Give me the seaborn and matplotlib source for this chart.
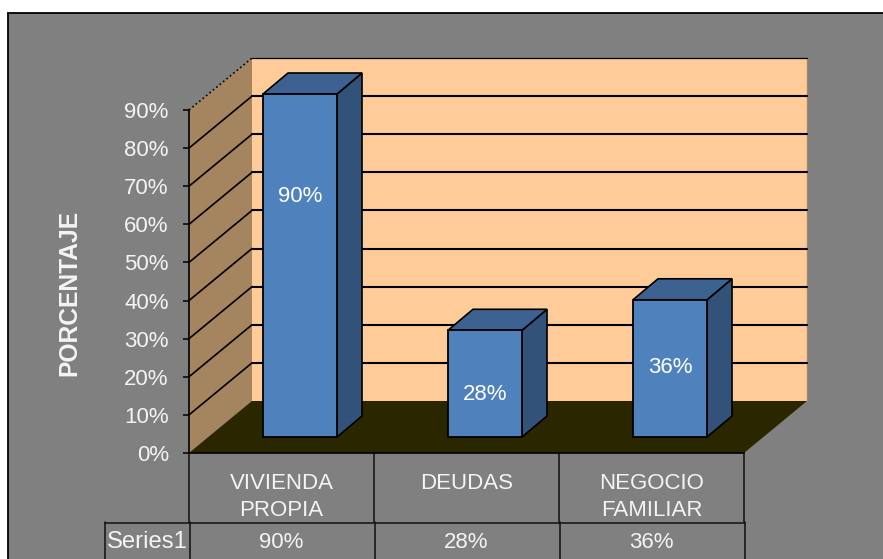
import matplotlib
matplotlib.use("Agg")
import matplotlib.pyplot as plt
import pandas as pd
import seaborn as sns
from matplotlib.patches import Polygon, Rectangle

categorias = ["VIVIENDA\nPROPIA", "DEUDAS", "NEGOCIO\nFAMILIAR"]
porcentajes = [90, 28, 36]
ticks_y = [0, 10, 20, 30, 40, 50, 60, 70, 80, 90]
nombre_serie = "Series1"

W, H = 883, 559
TXT = "#f4f4f4"
GRIS = "#808080"
FS = 16

sns.set_theme(style="white")
plt.rcParams["font.family"] = ["Liberation Sans", "DejaVu Sans"]

fig = plt.figure(figsize=(W / 100, H / 100), dpi=100, facecolor="white")

# fondo en pixeles: marco gris y lineas de la tabla
bg = fig.add_axes([0, 0, 1, 1], zorder=0)
bg.set_xlim(0, W)
bg.set_ylim(H, 0)
bg.axis("off")
bg.add_patch(Rectangle((8, 12.5), W, H, facecolor=GRIS, edgecolor="black", lw=1.3))
for x in [189, 374, 558.5, 744]:
    bg.plot([x, x], [453, 522], color="#111111", lw=1.1)
for x in [105, 189.5, 375, 559.5, 745]:
    bg.plot([x, x], [522, H], color="#111111", lw=1.1)
bg.plot([105, 745], [522.5, 522.5], color="#111111", lw=1.1)
bg.text(147.5, 541.5, nombre_serie, color=TXT, fontsize=17.2, ha="center", va="center")

# eje principal: plano frontal del grafico
ax = fig.add_axes([189 / W, (H - 453) / H, 555 / W, 343 / H], zorder=1)
ax.patch.set_alpha(0)

df = pd.DataFrame({"categoria": categorias, "porcentaje": porcentajes})
sns.barplot(data=df, x="categoria", y="porcentaje", width=0.4, color="#4f81bd",
            saturation=1, edgecolor="black", linewidth=1.3, ax=ax, zorder=5)
ax.set_xlim(-0.5, 2.5)
ax.set_ylim(0, 90)

px_x = 3 / 555
px_y = 90 / 343
fondo_x, fondo_y = 63 * px_x, 52 * px_y
x0, x1 = -0.5, 2.5

# paredes y piso
ax.add_patch(Polygon([(x0, 0), (x0, 90), (x0 + fondo_x, 90 + fondo_y), (x0 + fondo_x, fondo_y)],
                     facecolor="#a58560", edgecolor="none", clip_on=False, zorder=1))
ax.add_patch(Polygon([(x0 + fondo_x, fondo_y), (x0 + fondo_x, 90 + fondo_y),
                      (x1 + fondo_x, 90 + fondo_y), (x1 + fondo_x, fondo_y)],
                     facecolor="#ffcc99", edgecolor="none", clip_on=False, zorder=1))
ax.plot([x1 + fondo_x] * 2, [fondo_y, 90 + fondo_y], color="#a08870", lw=1, clip_on=False, zorder=1.2)
ax.add_patch(Polygon([(x0, 0), (x1, 0), (x1 + fondo_x, fondo_y), (x0 + fondo_x, fondo_y)],
                     facecolor="#2a2600", edgecolor="none", clip_on=False, zorder=2))

for t in ticks_y[1:]:
    ls = ":" if t == 90 else "-"
    ax.plot([x0, x0 + fondo_x], [t, t + fondo_y], color="black", lw=1.2, ls=ls, clip_on=False, zorder=1.5)
    ax.plot([x0 + fondo_x, x1 + fondo_x], [t + fondo_y, t + fondo_y], color="black",
            lw=0.9 if t == 90 else 1.5, clip_on=False, zorder=1.5)

# caras 3D de las barras, corridas sobre el piso
prof_x, prof_y = 25 * px_x, 21 * px_y
base_x, base_y = 0.1, 16 * px_y
alturas_texto = [63.0, 11.2, 18.3]
for barra, valor, h_txt in zip(ax.patches, porcentajes, alturas_texto):
    barra.set_x(barra.get_x() + base_x)
    barra.set_y(base_y)
    barra.set_clip_on(False)
    a, b = barra.get_x(), barra.get_x() + barra.get_width()
    c, d = base_y, base_y + valor
    ax.add_patch(Polygon([(b, c), (b, d), (b + prof_x, d + prof_y), (b + prof_x, c + prof_y)],
                         facecolor="#325279", edgecolor="black", lw=1.2, clip_on=False, zorder=4))
    ax.add_patch(Polygon([(a, d), (b, d), (b + prof_x, d + prof_y), (a + prof_x, d + prof_y)],
                         facecolor="#3d6291", edgecolor="black", lw=1.2, clip_on=False, zorder=4))
    ax.text((a + b) / 2, base_y + h_txt, f"{valor}%", color="white", fontsize=FS,
            ha="center", va="center", zorder=6, clip_on=False)

ax.set_yticks(ticks_y)
ax.set_yticklabels([f"{t}%" for t in ticks_y], color=TXT, fontsize=FS)
ax.set_xticks(range(len(categorias)))
ax.set_xticklabels(categorias, color=TXT, fontsize=FS, linespacing=1.32)
ax.tick_params(axis="y", left=True, length=4.5, width=1.1, color="black", pad=10)
ax.tick_params(axis="x", bottom=False, length=0, pad=14.7)
ax.set_xlabel("")
ax.set_ylabel("PORCENTAJE", color=TXT, fontsize=17.7, fontweight="bold", labelpad=0)
ax.yaxis.set_label_coords((81 - 189) / 555, (453 - 292.5) / 343)

sns.despine(ax=ax, top=True, right=True)
for lado in ["left", "bottom"]:
    ax.spines[lado].set_color("black")
    ax.spines[lado].set_linewidth(1.2)
    ax.spines[lado].set_zorder(3)

# fila de valores de la tabla
for i, valor in enumerate(porcentajes):
    ax.text(i, (453 - 542.5) / 343, f"{valor}%", transform=ax.get_xaxis_transform(), color=TXT,
            fontsize=FS, ha="center", va="center", clip_on=False)

fig.savefig("out.png", dpi=100)
